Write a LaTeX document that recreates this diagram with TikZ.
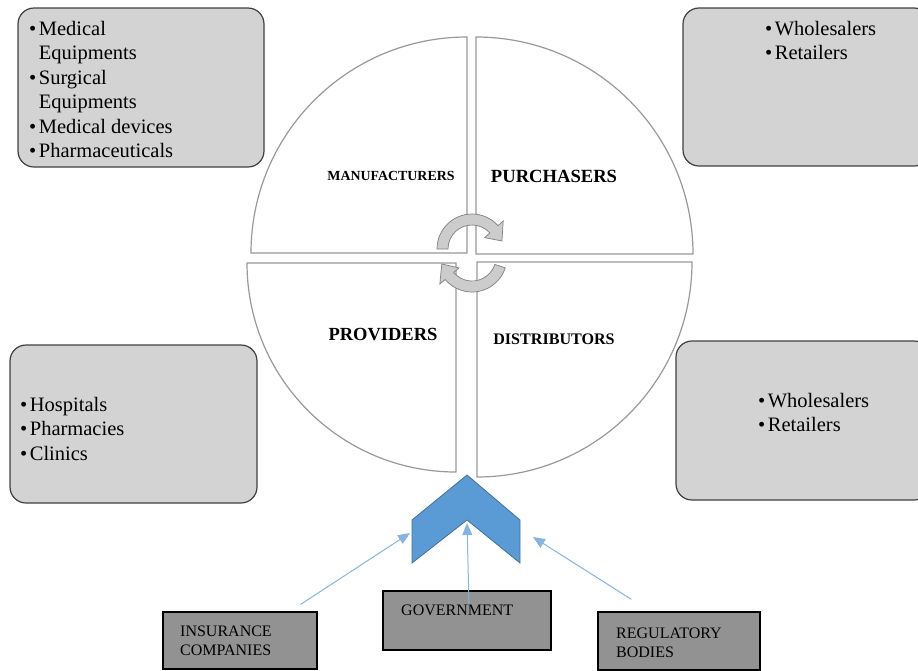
\documentclass[tikz,border=0pt]{standalone}
\usepackage{fontspec}
\setmainfont{Liberation Serif}
\usetikzlibrary{arrows.meta,calc}
\definecolor{boxgray}{HTML}{D3D3D3}
\definecolor{bodygray}{HTML}{929292}
\definecolor{chevfill}{HTML}{5B9BD5}
\definecolor{chevline}{HTML}{41719C}
\definecolor{feedblue}{HTML}{85B4E0}
\tikzset{
  infobox/.style={draw=black!75, line width=1.2pt, fill=boxgray, rounded corners=16pt, rectangle},
  bodybox/.style={draw=black, line width=1.3pt, fill=bodygray, rectangle},
  quarter/.style={draw=black!40, line width=1.2pt, fill=white},
  cyclearrow/.style={draw=black!50, line width=0.7pt, fill=black!20},
  chevron/.style={draw=chevline, line width=0.8pt, fill=chevfill},
  feed/.style={draw=feedblue, line width=1pt, -{Triangle[length=12pt,width=10pt]}},
  itemlist/.style={anchor=north west, align=left, inner sep=0pt, font=\fontsize{20.5}{24.4}\selectfont},
  bodylabel/.style={anchor=west, align=left, inner sep=0pt, font=\fontsize{16}{18.5}\selectfont},
}
\newcommand{\bitem}[1]{\textbullet\hspace{2.5pt}#1}
\newcommand{\bcont}[1]{\hphantom{\textbullet\hspace{2.5pt}}#1}
\begin{document}
\begin{tikzpicture}[x=1pt,y=-1pt]
\useasboundingbox (0,0) rectangle (918,670);

% the four quarters
\draw[quarter] (467,253) -- (251,253) arc[start angle=180,end angle=270,radius=216] -- cycle;
\draw[quarter] (476,254) -- (476,37) arc[start angle=270,end angle=360,radius=217] -- cycle;
\draw[quarter] (477,262) -- (692,262) arc[start angle=0,end angle=90,radius=215] -- cycle;
\draw[quarter] (456,263) -- (456,472) arc[start angle=90,end angle=180,radius=209] -- cycle;

\node (mfg) [font=\fontsize{13.9}{15}\selectfont\bfseries] at (391,176) {MANUFACTURERS};
\node (pur) [font=\fontsize{18.6}{20}\selectfont\bfseries] at (554,176) {PURCHASERS};
\node (prov)[font=\fontsize{18.5}{20}\selectfont\bfseries] at (383,335) {PROVIDERS};
\node (dist)[font=\fontsize{16.1}{18}\selectfont\bfseries] at (554,339) {DISTRIBUTORS};

% cycle arrows in the middle
\coordinate (topc) at (472,249);
\coordinate (botc) at (472,257);
\filldraw[cyclearrow] ($(topc)+(180:35)$) arc[start angle=180,end angle=318,radius=35]
  -- ($(topc)+(318:42)$) -- ($(topc)+(345:31)$) -- ($(topc)+(318:17)$)
  -- ($(topc)+(318:24)$) arc[start angle=318,end angle=180,radius=24] -- cycle;
\filldraw[cyclearrow] ($(botc)+(18:35)$) arc[start angle=18,end angle=140,radius=35]
  -- ($(botc)+(140:42)$) -- ($(botc)+(167:31)$) -- ($(botc)+(140:17)$)
  -- ($(botc)+(140:24)$) arc[start angle=140,end angle=18,radius=24] -- cycle;

% side boxes
\node (mfgbox) [infobox, minimum width=246pt, minimum height=159pt] at (141,87.5) {};
\node (purbox) [infobox, minimum width=247pt, minimum height=158pt] at (806.5,87) {};
\node (provbox)[infobox, minimum width=247pt, minimum height=158pt] at (133.5,424) {};
\node (distbox)[infobox, minimum width=254pt, minimum height=159pt] at (803,420.5) {};

\node (mfglist) [itemlist] at (29,21) {\bitem{Medical}\\\bcont{Equipments}\\\bitem{Surgical}\\\bcont{Equipments}\\\bitem{Medical devices}\\\bitem{Pharmaceuticals}};
\node (purlist) [itemlist] at (765,21) {\bitem{Wholesalers}\\\bitem{Retailers}};
\node (provlist)[itemlist] at (20,397) {\bitem{Hospitals}\\\bitem{Pharmacies}\\\bitem{Clinics}};
\node (distlist)[itemlist] at (758,393) {\bitem{Wholesalers}\\\bitem{Retailers}};

% chevron and the bodies feeding it
\filldraw[chevron] (467,475) -- (520,520) -- (520,563) -- (467,520) -- (412,563) -- (412,520) -- cycle;
\coordinate (chevL) at (410,533);
\coordinate (chevM) at (467,523);
\coordinate (chevR) at (533,537);

\node (ins) [bodybox, minimum width=154pt, minimum height=57pt] at (240,640.5) {};
\node (gov) [bodybox, minimum width=168pt, minimum height=59pt] at (467,620.5) {};
\node (reg) [bodybox, minimum width=162pt, minimum height=58pt] at (679,641) {};
\node (instext) [bodylabel] at (180,641) {INSURANCE\\COMPANIES};
\node (govtext) [bodylabel] at (401,610) {GOVERNMENT};
\node (regtext) [bodylabel] at (616,643) {REGULATORY\\BODIES};

\draw[feed] ($(ins.north east)+(-17,-7)$) -- (chevL);
\draw[feed] ($(gov.north)+(2,14)$) -- (chevM);
\draw[feed] ($(reg.north west)+(34,-12)$) -- (chevR);
\end{tikzpicture}
\end{document}
